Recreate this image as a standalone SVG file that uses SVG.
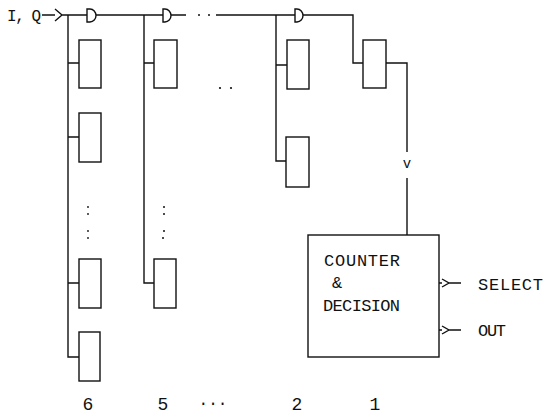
<svg xmlns="http://www.w3.org/2000/svg" width="550" height="417" viewBox="0 0 550 417">
<style>
.w{fill:none;stroke:#111;stroke-width:1.4}
.b{fill:#fff;stroke:#111;stroke-width:1.4}
.t{font-family:"Liberation Mono","DejaVu Sans Mono",monospace;fill:#111}
.d{fill:#111}
</style>
<rect width="550" height="417" fill="#fff"/>
<g id="connectors">
<text class="t" x="7" y="21" font-size="16" textLength="34">I, Q</text>
<path class="w" d="M42,15 H55 M55,9 L62,15 L55,21 M62,15 H87"/>
<path class="w" d="M96,15 H163 M171,15 H186 M216,15 H295 M303,15 H353 V63 H363"/>
<circle class="d" cx="199" cy="15" r="1"/><circle class="d" cx="209" cy="15" r="1"/>
<path class="w" d="M68,15 V357 H79 M68,63 H79 M68,137 H79 M68,283 H79"/>
<path class="w" d="M144,15 V283 H154 M144,63 H154"/>
<path class="w" d="M276,15 V161 H287 M276,65 H287"/>
<path class="w" d="M386,63 H407 V152 M407,178 V235"/>
<text class="t" x="407" y="168" font-size="14" text-anchor="middle">v</text>
<path class="w" d="M439,283 H442 M442,279 L449,283 L442,287 M449,283 H461"/>
<path class="w" d="M439,330 H442 M442,326 L449,330 L442,334 M449,330 H461"/>
</g>
<g id="gates">
<path class="w" d="M87,9 H90 A6,6.5 0 0 1 90,22 H87 Z"/>
<path class="w" d="M163,9 H165 A6,6.5 0 0 1 165,22 H163 Z"/>
<path class="w" d="M295,9 H297 A6,6.5 0 0 1 297,22 H295 Z"/>
</g>
<g id="col6">
<rect class="b" x="79" y="40" width="22" height="48"/>
<rect class="b" x="79" y="113" width="22" height="49"/>
<rect class="b" x="79" y="259" width="22" height="49"/>
<rect class="b" x="79" y="332" width="21" height="49"/>
<circle class="d" cx="88" cy="207" r="0.9"/><circle class="d" cx="88" cy="214" r="0.9"/><circle class="d" cx="88" cy="231" r="0.9"/><circle class="d" cx="88" cy="238" r="0.9"/>
</g>
<g id="col5">
<rect class="b" x="154" y="40" width="23" height="48"/>
<rect class="b" x="154" y="259" width="22" height="49"/>
<circle class="d" cx="164" cy="207" r="1"/><circle class="d" cx="164" cy="214" r="1"/><circle class="d" cx="164" cy="231" r="1"/><circle class="d" cx="163" cy="238" r="1"/>
</g>
<g id="midDots">
<circle class="d" cx="220" cy="88" r="1.1"/><circle class="d" cx="231" cy="88" r="1.1"/>
</g>
<g id="col2">
<rect class="b" x="287" y="40" width="22" height="49"/>
<rect class="b" x="286" y="137" width="23" height="50"/>
</g>
<g id="col1">
<rect class="b" x="363" y="40" width="23" height="48"/>
</g>
<g id="counter">
<rect class="b" x="308" y="235" width="131" height="122"/>
<text class="t" x="324" y="266" font-size="17" textLength="76">COUNTER</text>
<text class="t" x="332" y="288" font-size="17">&amp;</text>
<text class="t" x="323" y="311" font-size="17" textLength="77">DECISION</text>
</g>
<g id="outputs">
<text class="t" x="478" y="290" font-size="17" textLength="65">SELECT</text>
<text class="t" x="478" y="336" font-size="17" textLength="28">OUT</text>
</g>
<g id="labels">
<text class="t" x="88" y="410" font-size="18" text-anchor="middle">6</text>
<text class="t" x="163" y="410" font-size="18" text-anchor="middle">5</text>
<text class="t" x="213" y="408" font-size="16" text-anchor="middle">···</text>
<text class="t" x="297" y="410" font-size="18" text-anchor="middle">2</text>
<text class="t" x="375" y="410" font-size="18" text-anchor="middle">1</text>
</g>
</svg>
